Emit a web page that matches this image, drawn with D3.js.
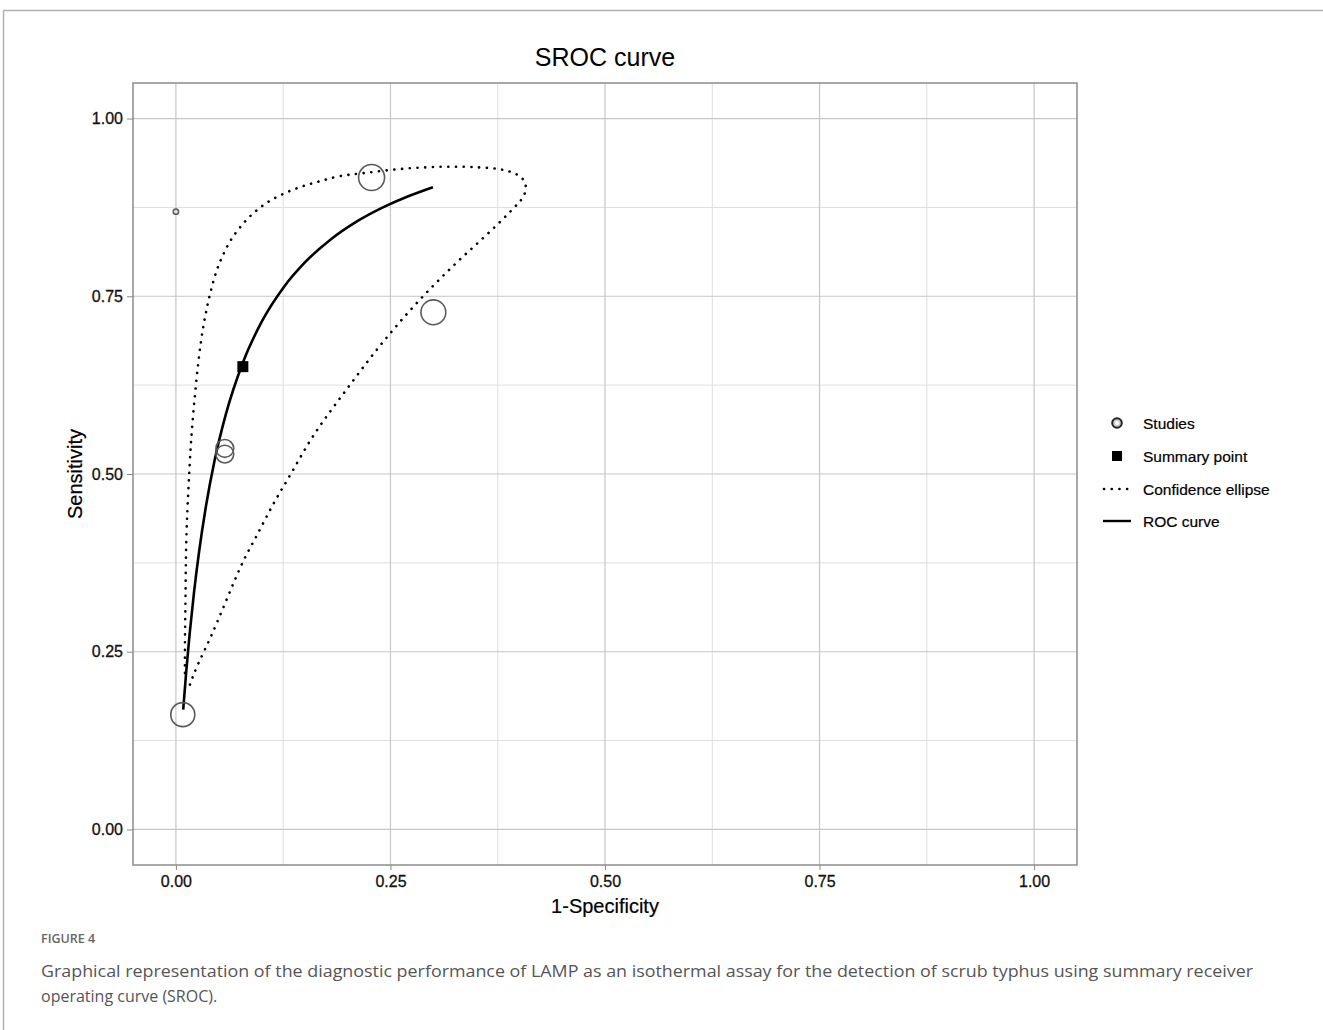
<!DOCTYPE html>
<html>
<head>
<meta charset="utf-8">
<script src="https://cdn.jsdelivr.net/npm/d3@7"></script>
<style>
  body { margin: 0; background: #fff; }
  svg { display: block; }
</style>
</head>
<body>
<svg id="chart" width="1323" height="1030"></svg>
<script>
// ---- Data ----
const xTicks = [0, 0.25, 0.5, 0.75, 1.0];
const yTicks = [0, 0.25, 0.5, 0.75, 1.0];
const tickLabels = ["0.00", "0.25", "0.50", "0.75", "1.00"];

// Studies: false positive rate, sensitivity, study weight
const studyFPR  = [0.000, 0.228, 0.300, 0.057, 0.057, 0.008];
const studySens = [0.869, 0.917, 0.7275, 0.536, 0.528, 0.1615];
const studyWeight = [7, 170, 155, 80, 80, 145];

// Summary point
const summaryFPR = [0.078];
const summarySens = [0.651];

// SROC curve points
const rocFPR  = [0.0085, 0.012, 0.016, 0.021, 0.027, 0.035, 0.045, 0.058, 0.078,
                 0.100, 0.125, 0.150, 0.180, 0.210, 0.240, 0.270, 0.2995];
const rocSens = [0.1685, 0.2218, 0.2751, 0.3325, 0.3906, 0.4546, 0.5187, 0.5832, 0.6566,
                 0.7142, 0.7617, 0.7972, 0.8296, 0.8546, 0.8743, 0.8904, 0.9035];

// Confidence ellipse points (open at the bottom tip)
const ellFPR  = [0.0105, 0.0105, 0.0113, 0.0116, 0.0151, 0.0171, 0.0201, 0.0241, 0.0291, 0.0338,
                 0.0396, 0.0474, 0.0551, 0.0632, 0.0745, 0.0870, 0.1016, 0.1179, 0.1359, 0.1533,
                 0.1715, 0.1909, 0.2142, 0.2491, 0.2879, 0.3228, 0.3539, 0.3772, 0.3927, 0.4036,
                 0.4090, 0.4063, 0.4005, 0.3927, 0.3818, 0.3574, 0.3318, 0.3079, 0.2852, 0.2643,
                 0.2445, 0.2258, 0.2026, 0.1793, 0.1560,
                 0.1347, 0.1133, 0.0939, 0.0783, 0.0590, 0.0396, 0.0241, 0.0163];
const ellSens = [0.2201, 0.2763, 0.3230, 0.4073, 0.4916, 0.5383, 0.5852, 0.6367, 0.6882, 0.7209,
                 0.7538, 0.7879, 0.8090, 0.8287, 0.8473, 0.8638, 0.8788, 0.8904, 0.8999, 0.9073,
                 0.9129, 0.9199, 0.9223, 0.9280, 0.9316, 0.9326, 0.9316, 0.9294, 0.9246, 0.9176,
                 0.9059, 0.8919, 0.8824, 0.8732, 0.8591, 0.8310, 0.8030, 0.7749, 0.7468, 0.7187,
                 0.6906, 0.6625, 0.6250, 0.5875, 0.5478,
                 0.5010, 0.4588, 0.4119, 0.3792, 0.3230, 0.2669, 0.2294, 0.2037];

const legendLabels = ["Studies", "Summary point", "Confidence ellipse", "ROC curve"];
const titleText = "SROC curve";
const xTitle = "1-Specificity";
const yTitle = "Sensitivity";
const figLabel = "FIGURE 4";
const captionLines = [
  "Graphical representation of the diagnostic performance of LAMP as an isothermal assay for the detection of scrub typhus using summary receiver",
  "operating curve (SROC)."
];

// ---- Layout ----
const svg = d3.select("#chart");
const panel = { left: 133, right: 1077, top: 83, bottom: 865 };
const FONT = "'Liberation Sans', Arial, Helvetica, sans-serif";

const x = d3.scaleLinear().domain([-0.05, 1.05]).range([panel.left, panel.right]);
const y = d3.scaleLinear().domain([-0.05, 1.05]).range([panel.bottom, panel.top]);
const r = d3.scaleSqrt().domain([0, d3.max(studyWeight)]).range([0, 13]);

// Outer frame lines
svg.append("line").attr("x1", 3.5).attr("x2", 1323).attr("y1", 10.5).attr("y2", 10.5)
  .attr("stroke", "#b0b0b0").attr("stroke-width", 1.5);
svg.append("line").attr("x1", 3.5).attr("x2", 3.5).attr("y1", 10.5).attr("y2", 1030)
  .attr("stroke", "#b0b0b0").attr("stroke-width", 1.5);

// Panel background
svg.append("rect").attr("x", panel.left).attr("y", panel.top)
  .attr("width", panel.right - panel.left).attr("height", panel.bottom - panel.top)
  .attr("fill", "#fff");

// Grid
const minor = [0.125, 0.375, 0.625, 0.875];
const g = svg.append("g");
minor.forEach(v => {
  g.append("line").attr("x1", x(v)).attr("x2", x(v)).attr("y1", panel.top).attr("y2", panel.bottom)
    .attr("stroke", "#dedede").attr("stroke-width", 1);
  g.append("line").attr("y1", y(v)).attr("y2", y(v)).attr("x1", panel.left).attr("x2", panel.right)
    .attr("stroke", "#dedede").attr("stroke-width", 1);
});
xTicks.forEach(v => {
  g.append("line").attr("x1", x(v)).attr("x2", x(v)).attr("y1", panel.top).attr("y2", panel.bottom)
    .attr("stroke", "#c6c6c6").attr("stroke-width", 1.2);
});
yTicks.forEach(v => {
  g.append("line").attr("y1", y(v)).attr("y2", y(v)).attr("x1", panel.left).attr("x2", panel.right)
    .attr("stroke", "#c6c6c6").attr("stroke-width", 1.2);
});

// Axes
const xAxis = d3.axisBottom(x).tickValues(xTicks).tickFormat((d, i) => tickLabels[i]).tickSize(5).tickPadding(6);
const yAxis = d3.axisLeft(y).tickValues(yTicks).tickFormat((d, i) => tickLabels[i]).tickSize(6).tickPadding(4);

const gx = svg.append("g").attr("transform", `translate(0,${panel.bottom})`).call(xAxis);
const gy = svg.append("g").attr("transform", `translate(${panel.left},0)`).call(yAxis);
[gx, gy].forEach(a => {
  a.select(".domain").remove();
  a.selectAll(".tick line").attr("stroke", "#888").attr("stroke-width", 1);
  a.selectAll(".tick text").attr("fill", "#111").attr("stroke", "#111").attr("stroke-width", 0.3)
    .style("font-family", FONT).style("font-size", "16px");
});

// Panel border
svg.append("rect").attr("x", panel.left).attr("y", panel.top)
  .attr("width", panel.right - panel.left).attr("height", panel.bottom - panel.top)
  .attr("fill", "none").attr("stroke", "#8c8c8c").attr("stroke-width", 1.5);

// Confidence ellipse
const ellData = ellFPR.map((d, i) => [d, ellSens[i]]);
svg.append("path")
  .attr("d", d3.line().x(d => x(d[0])).y(d => y(d[1])).curve(d3.curveBasis)(ellData))
  .attr("fill", "none").attr("stroke", "#000").attr("stroke-width", 2.6)
  .attr("stroke-linecap", "round").attr("stroke-dasharray", "0.1 7.6");

// ROC curve
const rocData = rocFPR.map((d, i) => [d, rocSens[i]]);
svg.append("path")
  .attr("d", d3.line().x(d => x(d[0])).y(d => y(d[1])).curve(d3.curveMonotoneX)(rocData))
  .attr("fill", "none").attr("stroke", "#000").attr("stroke-width", 2.6);

// Studies
svg.append("g").selectAll("circle")
  .data(studyFPR.map((d, i) => ({ fpr: d, sens: studySens[i], w: studyWeight[i] })))
  .join("circle")
  .attr("cx", d => x(d.fpr)).attr("cy", d => y(d.sens)).attr("r", d => r(d.w))
  .attr("fill", "none").attr("stroke", "#5a5a5a").attr("stroke-width", 1.6);

// Summary point
svg.append("g").selectAll("rect")
  .data(summaryFPR.map((d, i) => ({ fpr: d, sens: summarySens[i] })))
  .join("rect")
  .attr("x", d => x(d.fpr) - 5.5).attr("y", d => y(d.sens) - 5.5)
  .attr("width", 11).attr("height", 11).attr("fill", "#000");

// Title and axis titles
svg.append("text").attr("x", (panel.left + panel.right) / 2).attr("y", 66)
  .attr("text-anchor", "middle").style("font-family", FONT).style("font-size", "25px")
  .attr("fill", "#000").text(titleText);
svg.append("text").attr("x", (panel.left + panel.right) / 2).attr("y", 913)
  .attr("text-anchor", "middle").style("font-family", FONT).style("font-size", "20px")
  .attr("fill", "#000").attr("stroke", "#000").attr("stroke-width", 0.2).text(xTitle);
svg.append("text").attr("transform", `translate(82,${(panel.top + panel.bottom) / 2}) rotate(-90)`)
  .attr("text-anchor", "middle").style("font-family", FONT).style("font-size", "20px")
  .attr("fill", "#000").attr("stroke", "#000").attr("stroke-width", 0.2).text(yTitle);

// Legend
const leg = svg.append("g");
const legY = [423, 456, 489, 521];
legendLabels.forEach((lab, i) => {
  leg.append("text").attr("x", 1143).attr("y", legY[i] + 5.5)
    .style("font-family", FONT).style("font-size", "15.5px").attr("fill", "#000")
    .attr("stroke", "#000").attr("stroke-width", 0.2).text(lab);
});
leg.append("circle").attr("cx", 1117).attr("cy", legY[0]).attr("r", 4.8)
  .attr("fill", "#ccc").attr("stroke", "#222").attr("stroke-width", 2);
leg.append("circle").attr("cx", 1117).attr("cy", legY[0]).attr("r", 2)
  .attr("fill", "#fff");
leg.append("rect").attr("x", 1112).attr("y", legY[1] - 5).attr("width", 10).attr("height", 10).attr("fill", "#000");
leg.append("line").attr("x1", 1104).attr("x2", 1131).attr("y1", legY[2]).attr("y2", legY[2])
  .attr("stroke", "#000").attr("stroke-width", 2.6).attr("stroke-linecap", "round").attr("stroke-dasharray", "0.1 7.6");
leg.append("line").attr("x1", 1103).attr("x2", 1131).attr("y1", legY[3]).attr("y2", legY[3])
  .attr("stroke", "#000").attr("stroke-width", 2.4);

// Caption
const CAP = "'Open Sans', 'Noto Sans', sans-serif";
svg.append("text").attr("x", 41).attr("y", 943)
  .style("font-family", CAP).style("font-size", "12.5px").style("font-weight", "600").attr("fill", "#666")
  .text(figLabel);
captionLines.forEach((line, i) => {
  const t = svg.append("text").attr("x", 41).attr("y", 977 + i * 25)
    .style("font-family", CAP).style("font-size", "16px").attr("fill", "#555")
    .text(line);
  if (i === 0) t.attr("textLength", 1212).attr("lengthAdjust", "spacingAndGlyphs");
});
</script>
</body>
</html>
